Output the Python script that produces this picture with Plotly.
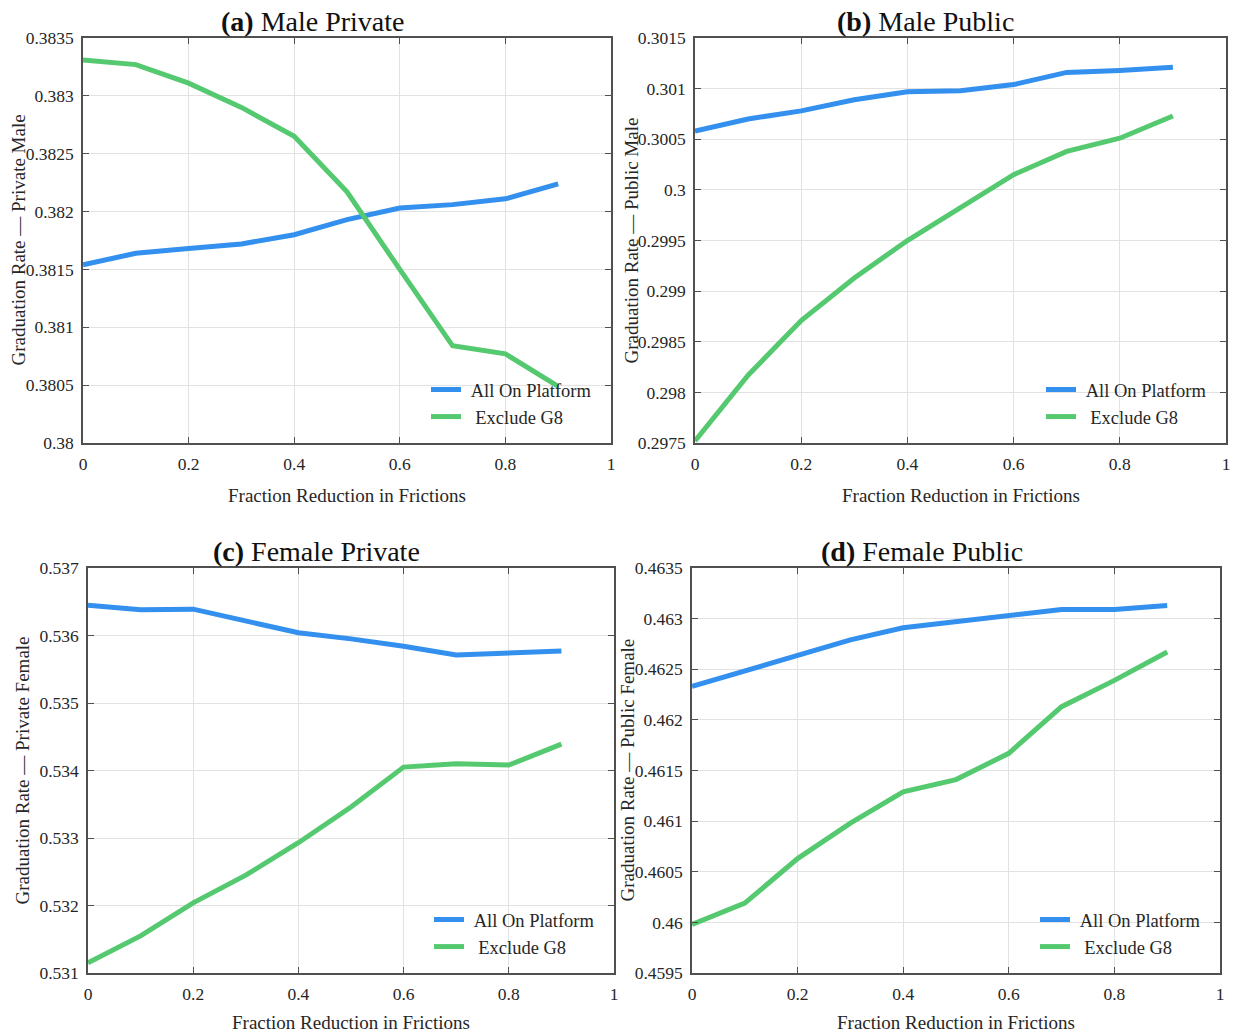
import plotly.graph_objects as go

# ---------------- data ----------------
frac = [0.0, 0.1, 0.2, 0.3, 0.4, 0.5, 0.6, 0.7, 0.8, 0.9]

male_private_all = [0.38154, 0.38164, 0.38168, 0.38172, 0.38180, 0.38193, 0.38203, 0.38206, 0.38211, 0.38224]
male_private_exg8 = [0.38331, 0.38327, 0.38311, 0.38290, 0.38265, 0.38217, 0.38150, 0.38084, 0.38077, 0.38049]

male_public_all = [0.30058, 0.30070, 0.30078, 0.30089, 0.30097, 0.30098, 0.30104, 0.30116, 0.30118, 0.30121]
male_public_exg8 = [0.29752, 0.29817, 0.29871, 0.29913, 0.29950, 0.29982, 0.30015, 0.30038, 0.30051, 0.30073]

female_private_all = [0.53645, 0.53638, 0.53639, 0.53621, 0.53604, 0.53595, 0.53584, 0.53571, 0.53574, 0.53577]
female_private_exg8 = [0.53115, 0.53155, 0.53204, 0.53245, 0.53293, 0.53346, 0.53405, 0.53410, 0.53408, 0.53439]

female_public_all = [0.46233, 0.46248, 0.46263, 0.46279, 0.46291, 0.46297, 0.46303, 0.46309, 0.46309, 0.46313]
female_public_exg8 = [0.45998, 0.46019, 0.46063, 0.46098, 0.46129, 0.46141, 0.46167, 0.46213, 0.46239, 0.46267]

x_ticks = [0, 0.2, 0.4, 0.6, 0.8, 1]
x_tick_labels = ["0", "0.2", "0.4", "0.6", "0.8", "1"]

y_ticks_a = [0.38, 0.3805, 0.381, 0.3815, 0.382, 0.3825, 0.383, 0.3835]
y_labels_a = ["0.38", "0.3805", "0.381", "0.3815", "0.382", "0.3825", "0.383", "0.3835"]
y_ticks_b = [0.2975, 0.298, 0.2985, 0.299, 0.2995, 0.3, 0.3005, 0.301, 0.3015]
y_labels_b = ["0.2975", "0.298", "0.2985", "0.299", "0.2995", "0.3", "0.3005", "0.301", "0.3015"]
y_ticks_c = [0.531, 0.532, 0.533, 0.534, 0.535, 0.536, 0.537]
y_labels_c = ["0.531", "0.532", "0.533", "0.534", "0.535", "0.536", "0.537"]
y_ticks_d = [0.4595, 0.46, 0.4605, 0.461, 0.4615, 0.462, 0.4625, 0.463, 0.4635]
y_labels_d = ["0.4595", "0.46", "0.4605", "0.461", "0.4615", "0.462", "0.4625", "0.463", "0.4635"]

panel_titles = ["<b>(a)</b> Male Private", "<b>(b)</b> Male Public",
                "<b>(c)</b> Female Private", "<b>(d)</b> Female Public"]
y_titles = ["Graduation Rate — Private Male", "Graduation Rate — Public Male",
            "Graduation Rate — Private Female", "Graduation Rate — Public Female"]
x_title = "Fraction Reduction in Frictions"
series_names = ["\u00a0All On Platform", "\u00a0\u00a0Exclude G8"]

# ---------------- style ----------------
W, H = 1238, 1036
FONT = "Liberation Serif, Times New Roman, serif"
BLUE = "#3390EE"
GREEN = "#55C96F"
TXT = "#262626"
AX = "#505050"


def px(x):
    return x / W


def py(y):
    return 1 - y / H


# plot areas in window pixels: (left, right, top, bottom)
boxes = [(83, 611, 38, 443), (695, 1226, 38, 443), (88, 614, 568, 973), (692, 1220, 568, 973)]
title_centers = [(313, 21), (925, 21), (316, 551), (922, 551)]
xtitle_y = [495, 495, 1022, 1022]
ytitle_x = [18, 631, 22, 627]
y_ranges = [(0.38, 0.3835), (0.2975, 0.3015), (0.531, 0.537), (0.4595, 0.4635)]
y_tick_sets = [(y_ticks_a, y_labels_a), (y_ticks_b, y_labels_b),
               (y_ticks_c, y_labels_c), (y_ticks_d, y_labels_d)]
data_sets = [(male_private_all, male_private_exg8), (male_public_all, male_public_exg8),
             (female_private_all, female_private_exg8), (female_public_all, female_public_exg8)]

fig = go.Figure()
layout = dict(
    width=W, height=H,
    margin=dict(l=0, r=0, t=0, b=0, autoexpand=False),
    paper_bgcolor="white", plot_bgcolor="white",
    font=dict(family=FONT, size=18, color=TXT),
    annotations=[],
)

for i in range(4):
    n = i + 1
    sfx = "" if n == 1 else str(n)
    xa, ya = "x" + sfx, "y" + sfx
    lg = "legend" + sfx
    l, r, t, b = boxes[i]
    all_v, ex_v = data_sets[i]
    fig.add_trace(go.Scatter(x=frac, y=all_v, mode="lines", name=series_names[0],
                             line=dict(color=BLUE, width=5), xaxis=xa, yaxis=ya, legend=lg))
    fig.add_trace(go.Scatter(x=frac, y=ex_v, mode="lines", name=series_names[1],
                             line=dict(color=GREEN, width=5), xaxis=xa, yaxis=ya, legend=lg))

    common = dict(showline=True, linecolor=AX, linewidth=1.5, mirror="ticks",
                  ticks="inside", ticklen=6, tickwidth=1.3, tickcolor=AX,
                  showgrid=True, gridcolor="#e2e2e2", gridwidth=1, zeroline=False,
                  automargin=False,
                  tickfont=dict(family=FONT, size=17.5, color=TXT))
    layout["xaxis" + sfx] = dict(
        common, domain=[px(l), px(r)], anchor=ya, range=[0, 1],
        tickvals=x_ticks, ticktext=x_tick_labels, ticklabelstandoff=4,
    )
    tv, tt = y_tick_sets[i]
    layout["yaxis" + sfx] = dict(
        common, domain=[py(b), py(t)], anchor=xa, range=list(y_ranges[i]),
        tickvals=tv, ticktext=tt, ticklabelstandoff=4,
    )
    layout[lg] = dict(
        x=px(r - 14), y=py(b - 7), xanchor="right", yanchor="bottom",
        bgcolor="rgba(255,255,255,0)", borderwidth=0,
        font=dict(family=FONT, size=18.5, color=TXT), tracegroupgap=0,
    )
    cx, cy = title_centers[i]
    layout["annotations"].append(dict(
        text=panel_titles[i], x=px(cx), y=py(cy), xref="paper", yref="paper",
        xanchor="center", yanchor="middle", showarrow=False,
        font=dict(family=FONT, size=28, color="#111111")))
    layout["annotations"].append(dict(
        text=x_title, x=px((l + r) / 2), y=py(xtitle_y[i]), xref="paper", yref="paper",
        xanchor="center", yanchor="middle", showarrow=False,
        font=dict(family=FONT, size=19, color=TXT)))
    layout["annotations"].append(dict(
        text=y_titles[i], x=px(ytitle_x[i]), y=py((t + b) / 2), xref="paper", yref="paper",
        xanchor="center", yanchor="middle", textangle=-90, showarrow=False,
        font=dict(family=FONT, size=19, color=TXT)))

fig.update_layout(**layout)
fig.write_html("out.html", config={"displayModeBar": False},
               post_script="document.body.style.margin='0';")
